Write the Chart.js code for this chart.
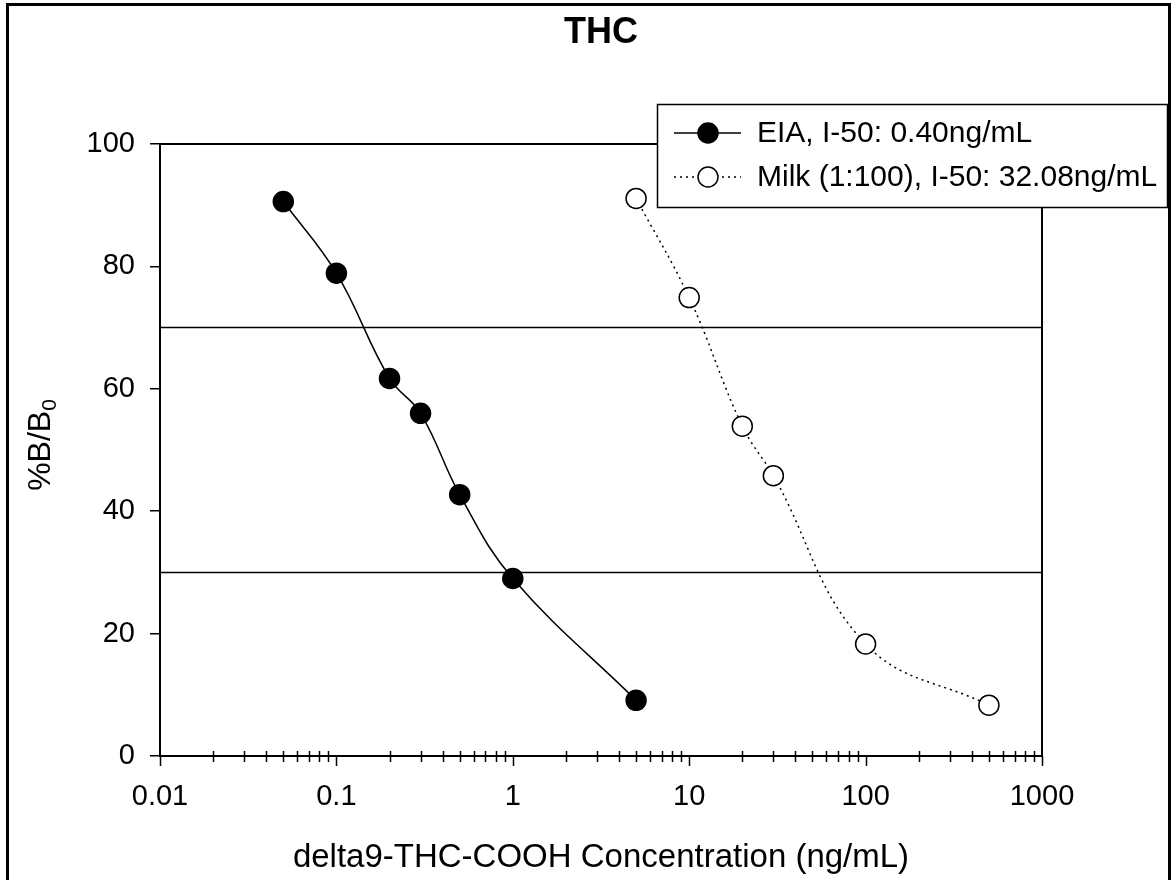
<!DOCTYPE html>
<html>
<head>
<meta charset="utf-8">
<script src="https://cdn.jsdelivr.net/npm/chart.js@4.4.1/dist/chart.umd.min.js"></script>
<style>
  body { margin: 0; background: #fff; }
  #wrap { width: 1171px; height: 880px; }
</style>
</head>
<body>
<div id="wrap"><canvas id="mychart" width="1171" height="880"></canvas></div>
<script>
// data
const eiaConc = [0.05, 0.1, 0.2, 0.3, 0.5, 1, 5];
const eiaBB0 = [90.6, 78.9, 61.7, 56.0, 42.7, 29.0, 9.1];
const milkConc = [5, 10, 20, 30, 100, 500];
const milkBB0 = [91.1, 74.9, 53.9, 45.8, 18.3, 8.3];
const refLevels = [70, 30];
const xMajor = [0.01, 0.1, 1, 10, 100, 1000];
const legendLabels = ['EIA, I-50: 0.40ng/mL', 'Milk (1:100), I-50: 32.08ng/mL'];

const font = 'Arial, "Liberation Sans", sans-serif';

function toXY(xs, ys) {
    let out = [];
    for (let i in xs) {
        out.push({ x: xs[i], y: ys[i] });
    }
    return out;
}

let refSets = refLevels.map(function (v) {
    return {
        data: [{ x: 0.01, y: v }, { x: 1000, y: v }],
        borderColor: '#000',
        borderWidth: 1.5,
        pointRadius: 0,
        tension: 0,
        order: 3
    };
});

let chartdata = {
    datasets: [{
        label: legendLabels[0],
        data: toXY(eiaConc, eiaBB0),
        borderColor: '#000',
        borderWidth: 1.5,
        backgroundColor: '#000',
        pointBackgroundColor: '#000',
        pointBorderColor: '#000',
        pointRadius: 10,
        tension: 0.4,
        order: 1
    }, {
        label: legendLabels[1],
        data: toXY(milkConc, milkBB0),
        borderColor: '#000',
        borderWidth: 1.5,
        borderDash: [2, 4],
        pointBackgroundColor: '#fff',
        pointBorderColor: '#000',
        pointBorderWidth: 1.5,
        pointRadius: 10,
        tension: 0.4,
        order: 2
    }].concat(refSets)
};

// frame, title, axis titles, log ticks, legend
const decorPlugin = {
    id: 'decor',
    afterDraw: function (chart) {
        let ctx = chart.ctx;
        let area = chart.chartArea;
        let xs = chart.scales.x;
        ctx.save();
        ctx.strokeStyle = '#000';
        ctx.fillStyle = '#000';

        // outer frame
        ctx.lineWidth = 3;
        ctx.strokeRect(7.5, 4.5, 1162, 900);

        // plot box
        ctx.lineWidth = 2;
        ctx.strokeRect(area.left, area.top, area.right - area.left, area.bottom - area.top);

        // x ticks: major down, minor crossing
        ctx.lineWidth = 1.5;
        for (let d = -2; d < 3; d++) {
            for (let m = 1; m < 10; m++) {
                let px = Math.round(xs.getPixelForValue(m * Math.pow(10, d))) + 0.5;
                ctx.beginPath();
                if (m == 1) {
                    ctx.moveTo(px, area.bottom);
                    ctx.lineTo(px, area.bottom + 10);
                } else {
                    ctx.moveTo(px, area.bottom - 5);
                    ctx.lineTo(px, area.bottom + 6);
                }
                ctx.stroke();
            }
        }
        let pEnd = Math.round(xs.getPixelForValue(1000)) + 0.5;
        ctx.beginPath();
        ctx.moveTo(pEnd, area.bottom);
        ctx.lineTo(pEnd, area.bottom + 10);
        ctx.stroke();

        // title
        ctx.textAlign = 'center';
        ctx.textBaseline = 'middle';
        ctx.font = 'bold 36px ' + font;
        ctx.fillText('THC', (area.left + area.right) / 2, 33);

        // x title
        ctx.font = '33px ' + font;
        ctx.fillText('delta9-THC-COOH Concentration (ng/mL)', (area.left + area.right) / 2, 858);

        // y title with subscript
        ctx.save();
        ctx.translate(50, 445);
        ctx.rotate(-Math.PI / 2);
        ctx.font = '32px ' + font;
        let main = '%B/B';
        let w1 = ctx.measureText(main).width;
        ctx.font = '21px ' + font;
        let w2 = ctx.measureText('0').width;
        let sx = -(w1 + w2) / 2;
        ctx.textAlign = 'left';
        ctx.textBaseline = 'alphabetic';
        ctx.font = '32px ' + font;
        ctx.fillText(main, sx, 0);
        ctx.font = '21px ' + font;
        ctx.fillText('0', sx + w1, 6);
        ctx.restore();

        // legend
        ctx.lineWidth = 1.5;
        ctx.fillStyle = '#fff';
        ctx.fillRect(657, 104, 510, 103);
        ctx.strokeRect(657.5, 104.5, 510, 103);
        let rows = [133, 177];
        for (let i = 0; i < 2; i++) {
            let y = rows[i];
            ctx.beginPath();
            ctx.setLineDash(i == 0 ? [] : [2, 4]);
            ctx.moveTo(674, y);
            ctx.lineTo(741, y);
            ctx.stroke();
            ctx.setLineDash([]);
            ctx.beginPath();
            ctx.arc(708, y, 10, 0, Math.PI * 2);
            ctx.fillStyle = i == 0 ? '#000' : '#fff';
            ctx.fill();
            ctx.stroke();
            ctx.fillStyle = '#000';
            ctx.font = '30px ' + font;
            ctx.textAlign = 'left';
            ctx.textBaseline = 'middle';
            ctx.fillText(legendLabels[i], 757, y + 1);
        }
        ctx.restore();
    }
};

let ctx = document.getElementById('mychart');
let myLineChart = new Chart(ctx, {
    type: 'line',
    data: chartdata,
    plugins: [decorPlugin],
    options: {
        responsive: false,
        animation: false,
        layout: { padding: { left: 0, top: 144, right: 129, bottom: 0 } },
        plugins: {
            legend: { display: false },
            title: { display: false },
            tooltip: { enabled: false }
        },
        scales: {
            x: {
                type: 'logarithmic',
                min: 0.01,
                max: 1000,
                afterBuildTicks: function (scale) {
                    scale.ticks = xMajor.map(function (v) { return { value: v }; });
                },
                afterFit: function (scale) { scale.height = 124; },
                grid: { drawOnChartArea: false, drawTicks: false },
                border: { display: false },
                ticks: {
                    autoSkip: false,
                    maxRotation: 0,
                    padding: 24,
                    color: '#000',
                    font: { family: font, size: 29 },
                    callback: function (v) { return String(v); }
                }
            },
            y: {
                min: 0,
                max: 100,
                afterFit: function (scale) { scale.width = 160; },
                grid: { drawOnChartArea: false, drawTicks: true, tickLength: 10, color: '#000', lineWidth: 1.5 },
                border: { display: false },
                ticks: {
                    stepSize: 20,
                    padding: 15,
                    color: '#000',
                    font: { family: font, size: 29 }
                }
            }
        }
    }
});
</script>
</body>
</html>
